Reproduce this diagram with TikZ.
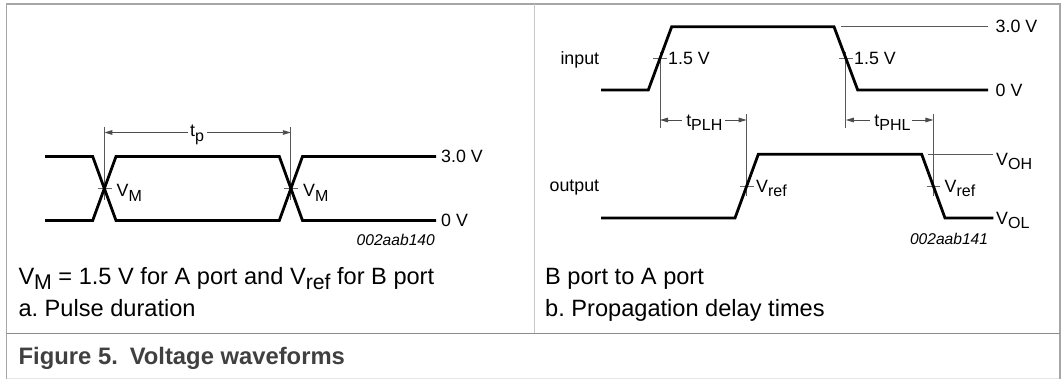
\documentclass[tikz,border=0pt]{standalone}
\usepackage{graphicx}
\usepackage{fontspec}
\setmainfont{Liberation Sans}
\usetikzlibrary{arrows.meta}
\newcommand\lsub[1]{\raisebox{-0.24em}{\scalebox{0.9}{#1}}}
\definecolor{framegray}{HTML}{A6A6A6}
\definecolor{divgray}{HTML}{C8C8C8}
\definecolor{rulegray}{HTML}{8C8C8C}
\definecolor{lightgray}{HTML}{E6E6E6}
\definecolor{figgray}{HTML}{404040}
\begin{document}
\begin{tikzpicture}[x=1pt,y=-1pt,
  wave/.style={line width=2.8pt, line join=miter},
  refline/.style={line width=0.9pt, black!65},
  crosstick/.style={line width=0.9pt, black!60},
  dimarrow/.style={line width=0.9pt, black!70, -{Triangle[length=8pt,width=4.6pt]}},
  lbl/.style={inner sep=0pt, font=\fontsize{17.8}{21}\selectfont},
  captext/.style={inner sep=0pt, font=\fontsize{23.6}{28}\selectfont, anchor=base west},
  idlbl/.style={inner sep=0pt, font=\itshape\fontsize{15.6}{18}\selectfont, anchor=base east},
  figcap/.style={inner sep=0pt, font=\bfseries\fontsize{23.8}{28}\selectfont, text=figgray, anchor=base west},
  framel/.style={line width=1.3pt, framegray}]
\useasboundingbox (0,0) rectangle (1061,379);

% ---------- frame ----------
\draw[line width=1.2pt, lightgray] (6.7,378.4) -- (1060,378.4);
\draw[framel] (6.7,379.5) -- (6.7,4) -- (1060,4) -- (1060,379.5);
\draw[line width=1pt, divgray] (534,4) -- (534,333.3);
\draw[line width=1.2pt, rulegray] (6.7,333.3) -- (1060,333.3);

% ---------- panel a: pulse duration ----------
\coordinate (cA) at (104.4,188.5);
\coordinate (cB) at (290.8,188.5);
\draw[refline] (104.4,127) -- (104.4,200);
\draw[refline] (290.8,127) -- (290.8,200);
\draw[crosstick] (97.5,188.5) -- (111.5,188.5);
\draw[crosstick] (283.9,188.5) -- (297.9,188.5);
\draw[wave] (45,156.5) -- (92.7,156.5) -- (116,220.5) -- (279.3,220.5) -- (302.5,156.5) -- (436,156.5);
\draw[wave] (45,220.5) -- (92.7,220.5) -- (116,156.5) -- (279.3,156.5) -- (302.5,220.5) -- (436,220.5);
\node[lbl, anchor=west] (a30) at (441,156.5) {3.0 V};
\node[lbl, anchor=west] (a0) at (441,220.5) {0 V};
\node[lbl, anchor=base west] (vm1) at (116.5,197) {V\lsub{M}};
\node[lbl, anchor=base west] (vm2) at (303,197) {V\lsub{M}};
\node[lbl, anchor=base] (tp) at (197,137) {t\lsub{p}};
\coordinate (tpL) at (187.6,132.5);
\coordinate (tpR) at (207,132.5);
\coordinate (tpA) at (104.4,132.5);
\coordinate (tpB) at (290.8,132.5);
\draw[dimarrow] (tpL) -- (tpA);
\draw[dimarrow] (tpR) -- (tpB);
\node[idlbl] (ida) at (435,246) {002aab140};
\node[captext] (capa1) at (18.3,284.3) {V\lsub{M} = 1.5 V for A port and V\lsub{ref} for B port};
\node[captext] (capa2) at (18.3,316.8) {a.\ Pulse duration};

% ---------- panel b: propagation delay ----------
\draw[refline] (841,26.7) -- (988,26.7);
\draw[refline] (928.3,154.3) -- (993.3,154.3);
\draw[refline] (660,52) -- (660,128);
\draw[refline] (845.85,52) -- (845.85,128);
\draw[refline] (746.65,114) -- (746.65,196);
\draw[refline] (933.4,114) -- (933.4,196);
\draw[crosstick] (653,58.35) -- (667,58.35);
\draw[crosstick] (838.85,58.35) -- (852.85,58.35);
\draw[crosstick] (739.8,186.15) -- (753.5,186.15);
\draw[crosstick] (926.5,186.15) -- (940.3,186.15);
\draw[wave] (601,90) -- (648.3,90) -- (671.7,26.7) -- (834,26.7) -- (857.7,90) -- (988,90);
\draw[wave] (601,218) -- (735,218) -- (758.3,154.3) -- (921.7,154.3) -- (945,218) -- (993.3,218);

\node[lbl, anchor=base east] (inp) at (599.3,64.5) {input};
\node[lbl, anchor=base east] (outp) at (599.3,192) {output};
\node[lbl, anchor=base west] (v15a) at (668,64.8) {1.5 V};
\node[lbl, anchor=base west] (v15b) at (854,64.8) {1.5 V};
\node[lbl, anchor=west] (b30) at (995.5,26.7) {3.0 V};
\node[lbl, anchor=west] (b0) at (995.5,90) {0 V};
\node[lbl, anchor=base west] (voh) at (996,165.5) {V\lsub{OH}};
\node[lbl, anchor=base west] (vol) at (996,224.3) {V\lsub{OL}};
\node[lbl, anchor=base west] (vref1) at (756,192.3) {V\lsub{ref}};
\node[lbl, anchor=base west] (vref2) at (944.5,192.3) {V\lsub{ref}};

\node[lbl, anchor=base] (tplh) at (704.3,126.3) {t\lsub{PLH}};
\coordinate (plhL) at (681.7,120);
\coordinate (plhR) at (725,120);
\coordinate (plhA) at (660,120);
\coordinate (plhB) at (746.65,120);
\draw[dimarrow] (plhL) -- (plhA);
\draw[dimarrow] (plhR) -- (plhB);

\node[lbl, anchor=base] (tphl) at (892.5,126.3) {t\lsub{PHL}};
\coordinate (phlL) at (870,120);
\coordinate (phlR) at (911.7,120);
\coordinate (phlA) at (845.85,120);
\coordinate (phlB) at (933.4,120);
\draw[dimarrow] (phlL) -- (phlA);
\draw[dimarrow] (phlR) -- (phlB);

\node[idlbl] (idb) at (988.3,244.5) {002aab141};
\node[captext] (capb1) at (545,284.3) {B port to A port};
\node[captext] (capb2) at (545,316.8) {b.\ Propagation delay times};

% ---------- figure caption ----------
\node[figcap] (fig) at (18.5,364.3) {Figure 5.\hspace{0.5em}Voltage waveforms};
\end{tikzpicture}
\end{document}
